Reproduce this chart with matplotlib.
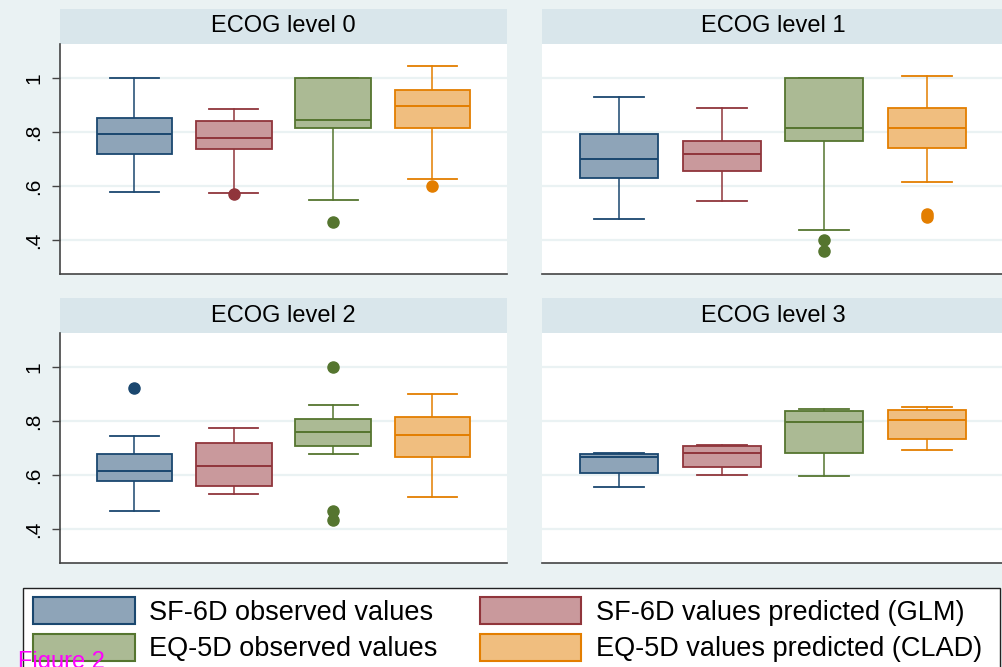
import matplotlib
matplotlib.use('Agg')
import matplotlib.pyplot as plt
from matplotlib.patches import Patch, Rectangle

plt.rcParams['font.family'] = ['Liberation Sans', 'DejaVu Sans']

# DATA
panels = ['ECOG level 0', 'ECOG level 1', 'ECOG level 2', 'ECOG level 3']
groups = ['SF-6D observed values', 'SF-6D values predicted (GLM)',
          'EQ-5D observed values', 'EQ-5D values predicted (CLAD)']

# one row per panel, one value per group
whislo = [[0.578, 0.573, 0.549, 0.627],
          [0.477, 0.543, 0.436, 0.616],
          [0.466, 0.528, 0.678, 0.517],
          [0.554, 0.600, 0.596, 0.692]]
q1 = [[0.717, 0.737, 0.815, 0.815],
      [0.631, 0.656, 0.768, 0.741],
      [0.576, 0.560, 0.708, 0.666],
      [0.606, 0.630, 0.680, 0.733]]
med = [[0.794, 0.778, 0.844, 0.895],
       [0.699, 0.719, 0.815, 0.815],
       [0.614, 0.632, 0.761, 0.747],
       [0.665, 0.680, 0.798, 0.802]]
q3 = [[0.851, 0.841, 1.000, 0.954],
      [0.794, 0.768, 1.000, 0.889],
      [0.678, 0.718, 0.809, 0.815],
      [0.676, 0.707, 0.837, 0.841]]
whishi = [[1.000, 0.884, 1.000, 1.044],
          [0.928, 0.889, 1.000, 1.006],
          [0.743, 0.774, 0.860, 0.899],
          [0.682, 0.711, 0.843, 0.851]]
outliers = [[[], [0.570], [0.467], [0.599]],
            [[], [], [0.400, 0.359], [0.496, 0.484]],
            [[0.924], [], [1.000, 0.466, 0.434], []],
            [[], [], [], []]]

yticks = [0.4, 0.6, 0.8, 1.0]
ytick_labels = ['.4', '.6', '.8', '1']

edge_cols = ['#1a476f', '#90353b', '#55752f', '#e37e00']
fill_cols = ['#8ea4b8', '#c9999c', '#abba94', '#f0be7f']
bg = '#eaf2f3'
strip_col = '#d9e6eb'

W, H = 1003, 667
fig = plt.figure(figsize=(W / 100, H / 100), dpi=100)
fig.patch.set_facecolor(bg)

# axes boxes in pixels: left, top, right, bottom
boxes = [(60, 44, 507, 274), (542, 44, 1004, 274),
         (60, 333, 507, 563), (542, 333, 1004, 563)]
strip_h = 35

for p, (l, t, r, b) in enumerate(boxes):
    ax = fig.add_axes([l / W, 1 - b / H, (r - l) / W, (b - t) / H])
    ax.set_facecolor('white')
    stats = []
    for g in range(4):
        stats.append(dict(med=med[p][g], q1=q1[p][g], q3=q3[p][g],
                          whislo=whislo[p][g], whishi=whishi[p][g],
                          fliers=outliers[p][g]))
    pos = [1, 2, 3, 4]
    bp = ax.bxp(stats, positions=pos, widths=0.76, capwidths=0.49,
                patch_artist=True, manage_ticks=False)
    for g in range(4):
        c = edge_cols[g]
        bp['boxes'][g].set(facecolor=fill_cols[g], edgecolor=c, linewidth=1.3,
                           zorder=3)
        bp['medians'][g].set(color=c, linewidth=1.4, zorder=4)
        for k in (2 * g, 2 * g + 1):
            bp['whiskers'][k].set(color=c, linewidth=1.1)
            bp['caps'][k].set(color=c, linewidth=1.3)
        bp['fliers'][g].set(marker='o', markerfacecolor=c, markeredgecolor=c,
                            markersize=8)

    ax.set_xlim(0.25, 4.75)
    ax.set_ylim(0.274, 1.126)
    ax.set_yticks(yticks)
    ax.grid(axis='y', color=bg, linewidth=1.6, zorder=0)
    ax.set_axisbelow(True)
    ax.set_xticks([])
    for s in ('top', 'right'):
        ax.spines[s].set_visible(False)
    ax.spines['bottom'].set_color('#444444')
    ax.spines['bottom'].set_linewidth(1.2)
    if p % 2 == 0:
        ax.spines['left'].set_color('#444444')
        ax.spines['left'].set_linewidth(1.2)
        ax.set_yticklabels(ytick_labels, rotation=90, va='center', fontsize=15)
        ax.tick_params(axis='y', length=6, width=1.0, color='#444444', pad=6)
    else:
        ax.spines['left'].set_visible(False)
        ax.tick_params(axis='y', length=0, labelleft=False)

    # strip header
    sh = strip_h / (b - t)
    ax.add_patch(Rectangle((0, 1), 1, sh, transform=ax.transAxes,
                           facecolor=strip_col, edgecolor='none', clip_on=False))
    ax.text(0.5, 1 + sh / 2, panels[p], transform=ax.transAxes,
            ha='center', va='center', fontsize=17)

# legend frame (runs off the bottom of the image)
fig.add_artist(Rectangle((23 / W, -0.1), (1000 - 23) / W, (1 - 588 / H) + 0.1,
                         transform=fig.transFigure, facecolor='white',
                         edgecolor='#222222', linewidth=1.0))

handles = []
for g in [0, 2, 1, 3]:
    handles.append(Patch(facecolor=fill_cols[g], edgecolor=edge_cols[g],
                         linewidth=1.5, label=groups[g]))
fig.legend(handles=handles, ncol=2, loc='upper left',
           bbox_to_anchor=(33 / W, 1 - 597 / H), frameon=False,
           fontsize=19.5, handlelength=3.75, handleheight=1.15,
           handletextpad=0.55, columnspacing=1.55, labelspacing=0.3,
           borderpad=0, borderaxespad=0)

fig.text(18 / W, 1 - 651 / H, 'Figure 2', color='#ff00ff', fontsize=17,
         va='top', ha='left', zorder=10)

fig.savefig('out.png', dpi=100, facecolor=fig.get_facecolor())
